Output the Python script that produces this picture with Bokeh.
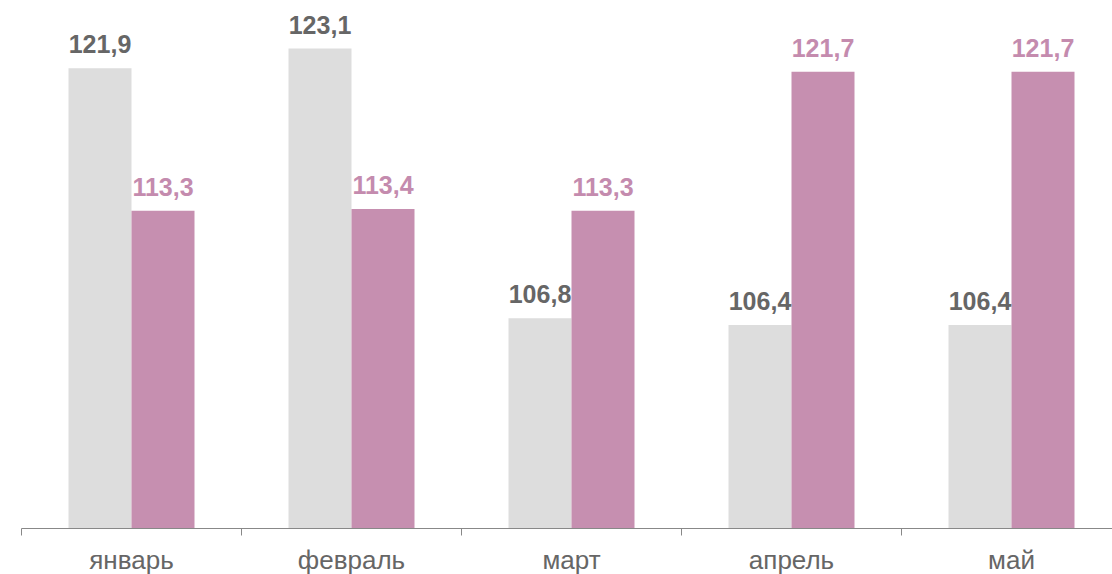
from bokeh.plotting import figure
from bokeh.models import ColumnDataSource, FixedTicker, Range1d
from bokeh.core.properties import value
from bokeh.embed import file_html
from bokeh.resources import INLINE

months = ["январь", "февраль", "март", "апрель", "май"]
series_a = [121.9, 123.1, 106.8, 106.4, 106.4]
series_b = [113.3, 113.4, 113.3, 121.7, 121.7]

GREY = "#DDDDDD"
PINK = "#C68FB0"
GREY_TXT = "#666666"
PINK_TXT = "#C48BAE"

idx = list(range(len(months)))
bw = 63 / 220
xa = [i + 0.5 - bw / 2 for i in idx]
xb = [i + 0.5 + bw / 2 for i in idx]
lab_a = [f"{v:.1f}".replace(".", ",") for v in series_a]
lab_b = [f"{v:.1f}".replace(".", ",") for v in series_b]

src_a = ColumnDataSource(dict(x=xa, top=series_a, lab=lab_a))
src_b = ColumnDataSource(dict(x=xb, top=series_b, lab=lab_b))

p = figure(width=1112, height=577, output_backend="svg", toolbar_location=None,
           x_range=Range1d(0, 1091 / 220), y_range=Range1d(94.1, 126.0),
           min_border_left=21, min_border_right=0, min_border_top=0, min_border_bottom=49)
p.outline_line_color = None
p.grid.visible = False
p.yaxis.visible = False
p.background_fill_color = "white"
p.border_fill_color = "white"

p.vbar(x="x", top="top", bottom=94.1, width=bw, source=src_a, fill_color=GREY, line_color=None)
p.vbar(x="x", top="top", bottom=94.1, width=bw, source=src_b, fill_color=PINK, line_color=None)

p.text(x="x", y="top", text="lab", source=src_a, text_align="center", text_baseline="bottom",
       y_offset=-15, text_font=value("Liberation Sans"), text_font_style="bold",
       text_font_size="25px", text_color=GREY_TXT)
p.text(x="x", y="top", text="lab", source=src_b, text_align="center", text_baseline="bottom",
       y_offset=-15, text_font=value("Liberation Sans"), text_font_style="bold",
       text_font_size="25px", text_color=PINK_TXT)

ax = p.xaxis[0]
ax.ticker = FixedTicker(ticks=[i + 0.5 for i in idx], minor_ticks=list(range(len(months) + 1)))
ax.major_label_overrides = {i + 0.5: m for i, m in zip(idx, months)}
ax.major_tick_out = 0
ax.major_tick_in = 0
ax.minor_tick_out = 7
ax.minor_tick_in = 0
ax.minor_tick_line_color = "#888888"
ax.axis_line_color = "#888888"
ax.major_label_text_font = "Liberation Sans"
ax.major_label_text_font_size = "26px"
ax.major_label_text_color = "#666666"
ax.major_label_standoff = 9

open("out.html", "w").write(file_html(p, INLINE))
